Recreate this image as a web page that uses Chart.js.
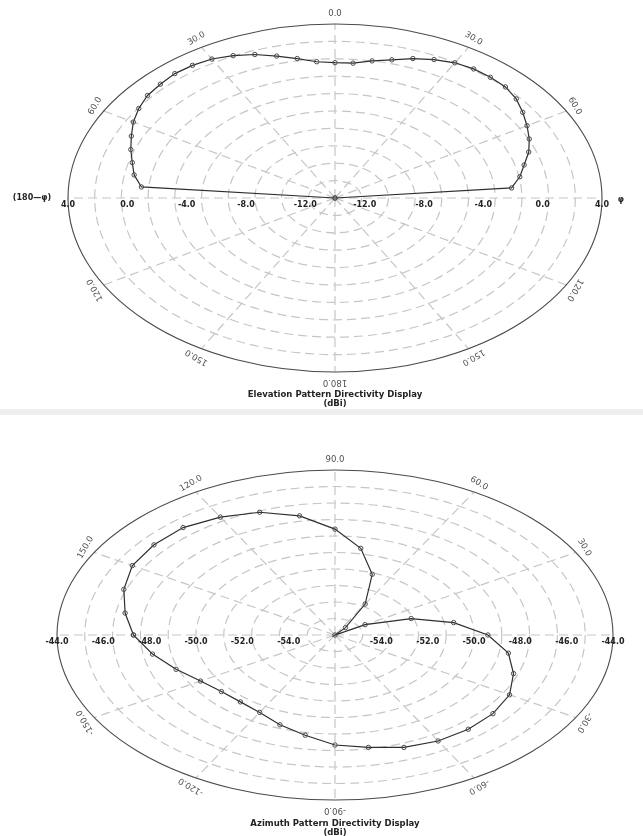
<!DOCTYPE html>
<html>
<head>
<meta charset="UTF-8">
<title>patternDisplay.html</title>
<style>
	body {margin:0; background:#fff; width:643px; height:836px; overflow:hidden; position:relative;}
	canvas {position:absolute; left:0;}
	#elevChart {top:0}
	#azimChart {top:416px}
	.sep {position:absolute; left:0; top:409px; width:643px; height:6px; background:#eeeeee;}
</style>
</head>
<body>
	<canvas id="elevChart" width="643" height="408"></canvas>
	<div class="sep"></div>
	<canvas id="azimChart" width="643" height="420"></canvas>
</body>
<script src="https://cdn.jsdelivr.net/npm/chart.js"></script>
<script>
	// elevation pattern (deg, dBi)
	const elevAngles = [-90,-85,-80,-75,-70,-65,-60,-55,-50,-45,-40,-35,-30,-25,-20,-15,-10,-5,
		0,5,10,15,20,25,30,35,40,45,50,55,60,65,70,75,80,85,90];
	const elevGain = [-14,-0.9,-0.25,0.15,0.65,1.15,1.7,2.15,2.5,2.65,2.8,2.75,2.6,2.25,1.8,1.2,0.65,0.15,
		0.0,0.0,0.4,0.8,1.35,1.8,2.15,2.3,2.3,2.25,1.95,1.45,0.95,0.45,-0.1,-0.8,-1.35,-2.05,-14];
	const elevTicks = [4,0,-4,-8,-12];
	const elevLabelAngles = [0,30,60,120,150,180,-150,-120,-60,-30];
	const elevLabelTexts = ['0.0','30.0','60.0','120.0','150.0','180.0','150.0','120.0','60.0','30.0'];

	// azimuth pattern (deg, dBi)
	const azimAngles = [-180,-170,-160,-150,-140,-130,-120,-110,-100,-90,-80,-70,-60,-50,-40,-30,-20,-10,
		0,10,20,30,40,50,60,70,80,90,100,110,120,130,140,150,160,170,180];
	const azimGain = [-47.3,-48.0,-48.7,-49.3,-49.6,-49.65,-49.5,-49.05,-48.6,-48.0,-47.7,-47.3,-47.1,-47.05,-47.1,-47.3,-47.8,-48.4,
		-49.4,-50.8,-52.5,-54.5,-56,-55.3,-53.4,-51.3,-49.6,-48.3,-47.2,-46.5,-46.1,-45.8,-45.8,-45.9,-46.3,-46.8,-47.3];
	const azimTicks = [-44,-46,-48,-50,-52,-54];
	const azimLabelAngles = [90,60,30,-30,-60,-90,-120,-150,150,120];
	const azimLabelTexts = ['90.0','60.0','30.0','-30.0','-60.0','-90.0','-120.0','-150.0','150.0','120.0'];

	const FONT = '"DejaVu Sans", Verdana, sans-serif';

	// polar -> x,y on a unit ellipse (screen angle clockwise from top)
	function toXY(theta, v, rMin, rMax) {
		let r = (v - rMin) / (rMax - rMin);
		r = Math.max(0, Math.min(1, r));
		let t = theta * Math.PI / 180;
		return {x: r * Math.sin(t), y: r * Math.cos(t)};
	}

	function polarChart(id, o) {
		let pts = o.angles.map(function(a, i) { return toXY(o.screen(a), o.values[i], o.rMin, o.rMax); });
		let gridPlugin = {
			id: 'polarGrid',
			beforeDatasetsDraw: function(chart) {
				let ctx = chart.ctx, sx = chart.scales.x, sy = chart.scales.y;
				let cx = sx.getPixelForValue(0), cy = sy.getPixelForValue(0);
				let rx = sx.getPixelForValue(1) - cx, ry = cy - sy.getPixelForValue(1);
				ctx.save();
				ctx.strokeStyle = '#c6c6c6';
				ctx.lineWidth = 1.2;
				ctx.setLineDash([9, 5]);
				for (let i = 1; i < 10; i++) {	// rings
					ctx.beginPath();
					ctx.ellipse(cx, cy, rx * i / 10, ry * i / 10, 0, 0, Math.PI * 2);
					ctx.stroke();
				}
				for (let a = 0; a < 360; a += 30) {	// spokes
					let t = a * Math.PI / 180;
					ctx.beginPath();
					ctx.moveTo(cx, cy);
					ctx.lineTo(cx + rx * Math.sin(t), cy - ry * Math.cos(t));
					ctx.stroke();
				}
				ctx.setLineDash([]);
				ctx.strokeStyle = '#4a4a4a';
				ctx.lineWidth = 1.1;
				ctx.beginPath();
				ctx.ellipse(cx, cy, rx, ry, 0, 0, Math.PI * 2);
				ctx.stroke();
				ctx.restore();
			},
			afterDraw: function(chart) {
				let ctx = chart.ctx, sx = chart.scales.x, sy = chart.scales.y;
				let cx = sx.getPixelForValue(0), cy = sy.getPixelForValue(0);
				let rx = sx.getPixelForValue(1) - cx, ry = cy - sy.getPixelForValue(1);
				ctx.save();
				ctx.textAlign = 'center';
				ctx.textBaseline = 'middle';
				// angle labels round the rim
				ctx.fillStyle = '#505050';
				ctx.font = '8.5px ' + FONT;
				o.labelAngles.forEach(function(a, i) {
					let th = o.screen(a), t = th * Math.PI / 180;
					ctx.save();
					ctx.translate(cx + (rx + 10) * Math.sin(t), cy - (ry + 10) * Math.cos(t));
					ctx.rotate(t);
					ctx.fillText(o.labelTexts[i], 0, 0);
					ctx.restore();
				});
				// radial tick labels along the horizontal axis
				ctx.fillStyle = '#222';
				ctx.font = 'bold 8px ' + FONT;
				o.ticks.forEach(function(v) {
					let r = (v - o.rMin) / (o.rMax - o.rMin);
					ctx.fillText(v.toFixed(1), cx - rx * r, cy + 7);
					ctx.fillText(v.toFixed(1), cx + rx * r, cy + 7);
				});
				if (o.leftTag) ctx.fillText(o.leftTag, cx - rx - 36, cy);
				if (o.rightTag) ctx.fillText(o.rightTag, cx + rx + 19, cy + 2);
				// title
				ctx.font = 'bold 8.5px ' + FONT;
				ctx.fillText(o.title[0], cx, o.titleY);
				ctx.fillText(o.title[1], cx, o.titleY + 9);
				ctx.restore();
			}
		};
		return new Chart(document.getElementById(id), {
			type: 'scatter',
			data: {
				datasets: [{
					data: pts,
					showLine: true,
					borderColor: '#2e2e2e',
					borderWidth: 1.2,
					tension: 0,
					pointRadius: 2.2,
					pointBackgroundColor: 'rgba(255,255,255,0)',
					pointBorderColor: '#4a4a4a',
					pointBorderWidth: 1
				}]
			},
			options: {
				responsive: false,
				animation: false,
				layout: {padding: o.padding},
				plugins: {legend: {display: false}, tooltip: {enabled: false}},
				scales: {
					x: {type: 'linear', min: -1, max: 1, display: false},
					y: {type: 'linear', min: -1, max: 1, display: false}
				}
			},
			plugins: [gridPlugin]
		});
	}

	polarChart('elevChart', {
		angles: elevAngles, values: elevGain, rMin: -14, rMax: 4,
		screen: function(a) { return a; },
		ticks: elevTicks, labelAngles: elevLabelAngles, labelTexts: elevLabelTexts,
		leftTag: '(180\u2014\u03c6)', rightTag: '\u03c6',
		title: ['Elevation Pattern Directivity Display', '(dBi)'], titleY: 395,
		padding: {left: 68, right: 41, top: 24, bottom: 36}
	});

	polarChart('azimChart', {
		angles: azimAngles, values: azimGain, rMin: -56, rMax: -44,
		screen: function(a) { return 90 - a; },
		ticks: azimTicks, labelAngles: azimLabelAngles, labelTexts: azimLabelTexts,
		title: ['Azimuth Pattern Directivity Display', '(dBi)'], titleY: 408,
		padding: {left: 57, right: 30, top: 54, bottom: 36}
	});
</script>
</html>
